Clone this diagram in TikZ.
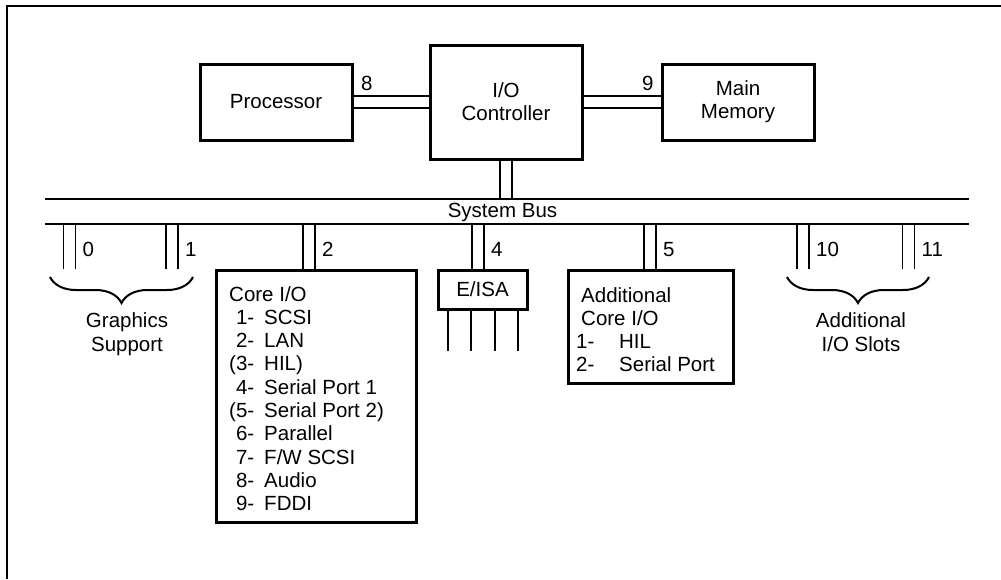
\documentclass[tikz,border=0pt]{standalone}
\usepackage{fontspec}
\setmainfont{Liberation Sans}
\usepackage{array}
\usetikzlibrary{decorations.pathreplacing}

\newcommand{\blockfont}{\fontsize{20.5}{23.3}\selectfont}

\tikzset{
	unit/.style={draw, line width=3pt, inner sep=0pt, align=center},
	busline/.style={line width=1.4pt},
	pair/.style={line width=1.3pt, double distance=10.7pt},
	leg/.style={line width=2.8pt},
	slotnum/.style={inner sep=0pt, anchor=base west},
	curly/.style={line width=2pt, decorate, decoration={brace, amplitude=26pt}},
}

\begin{document}
\begin{tikzpicture}[x=1pt, y=-1pt, every node/.style={font=\blockfont}]
		\useasboundingbox (0,0) rectangle (1001,579);
		\draw[line width=2.2pt] (7,579) -- (7,6) -- (1001,6);
		
		\node[unit, minimum width=152, minimum height=76] (proc) at (276,102) {Processor};
		\node[unit, minimum width=152, minimum height=114] (ctrl) at (506,102) {I/O\\Controller};
		\node[unit, minimum width=152, minimum height=76] (mem) at (738,102) {Main\\Memory};
		
		\draw[pair] (proc) -- (ctrl);
		\draw[pair] (ctrl) -- (mem);
		\node[slotnum] (l8) at (361,90) {8};
		\node[slotnum] (l9) at (642,90) {9};
		
		% system bus
		\coordinate (btl) at (45,199);
		\coordinate (btr) at (969,199);
		\coordinate (bbl) at (45,224);
		\coordinate (bbr) at (969,224);
		\draw[pair] (ctrl) -- (ctrl |- btl);
		
		\coordinate (s0) at (69.5,224);
		\coordinate (s1) at (172,224);
		\coordinate (s2) at (309,224);
		\coordinate (s4) at (478,224);
		\coordinate (s5) at (650,224);
		\coordinate (s10) at (803,224);
		\coordinate (s11) at (908.5,224);
		
		\node[unit, minimum width=200, minimum height=252] (core) at (316,396) {};
		\node[unit, minimum width=89, minimum height=39] (eisa) at (482.5,289.5) {E/ISA};
		\node[unit, minimum width=165, minimum height=113] (addcore) at (650.5,326.5) {};
		
		\draw[pair] (s0) -- ++(0,45) coordinate (e0);
		\draw[pair] (s1) -- ++(0,45) coordinate (e1);
		\draw[pair] (s2) -- (s2 |- core.north);
		\draw[pair] (s4) -- (s4 |- eisa.north);
		\draw[pair] (s5) -- (s5 |- addcore.north);
		\draw[pair] (s10) -- ++(0,45) coordinate (e10);
		\draw[pair] (s11) -- ++(0,45) coordinate (e11);
		
		\draw[busline] (btl) -- (btr);
		\draw[busline] (bbl) -- (bbr);
		\node[anchor=base] (sysbus) at (502.5,217) {System Bus};
		
		\node[slotnum] (l0) at (82.5,256) {0};
		\node[slotnum] (l1) at (185,256) {1};
		\node[slotnum] (l2) at (322,256) {2};
		\node[slotnum] (l4) at (491,256) {4};
		\node[slotnum] (l5) at (663,256) {5};
		\node[slotnum] (l10) at (816,256) {10};
		\node[slotnum] (l11) at (921.5,256) {11};
		
		% E/ISA legs
		\draw[leg] ([xshift=-34.5pt]eisa.south) -- ++(0,40);
		\draw[leg] ([xshift=-11.5pt]eisa.south) -- ++(0,40);
		\draw[leg] ([xshift=12.5pt]eisa.south) -- ++(0,40);
		\draw[leg] ([xshift=35.5pt]eisa.south) -- ++(0,40);
		
		\node[anchor=base west, inner sep=0pt] (corelist) at (229,301) {\begin{tabular}[t]{@{}r@{\hspace{10pt}}l@{}}
			\multicolumn{2}{@{}l@{}}{Core I/O}\\
			1- & SCSI\\
			2- & LAN\\
			(3- & HIL)\\
			4- & Serial Port 1\\
			(5- & Serial Port 2)\\
			6- & Parallel\\
			7- & F/W SCSI\\
			8- & Audio\\
			9- & FDDI
		\end{tabular}};
		
		\node[anchor=base west, inner sep=0pt] (addlist) at (576,302) {\begin{tabular}[t]{@{}p{43pt}@{}l@{}}
			\multicolumn{2}{@{\hspace{5pt}}l@{}}{Additional}\\
			\multicolumn{2}{@{\hspace{5pt}}l@{}}{Core I/O}\\
			1- & HIL\\
			2- & Serial Port
		\end{tabular}};
		
		% braces
		\coordinate (gl) at (50,277);
		\coordinate (gr) at (193,277);
		\draw[curly] (gr) -- (gl);
		\node[align=center, anchor=base] (gfx) at (127,351) {Graphics\\Support};
		
		\coordinate (al) at (787,277);
		\coordinate (ar) at (929,277);
		\draw[curly] (ar) -- (al);
		\node[align=center, anchor=base] (addslots) at (861,351) {Additional\\I/O Slots};
		
\end{tikzpicture}
\end{document}
